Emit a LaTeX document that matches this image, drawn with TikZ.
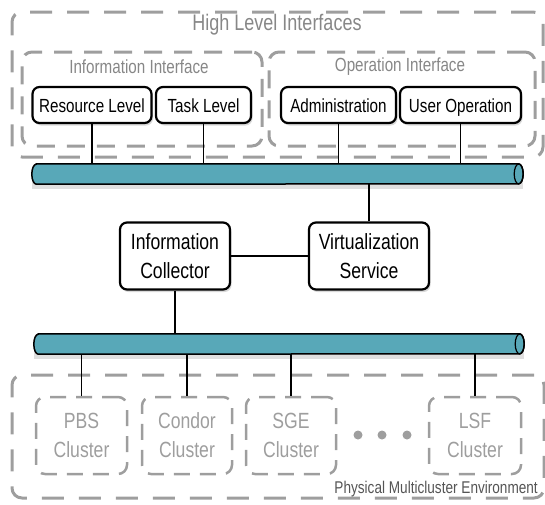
\documentclass[tikz,border=0pt]{standalone}
\usepackage{fontspec}
\setmainfont[FakeStretch=0.8]{Liberation Sans}
\usetikzlibrary{shadows}
\definecolor{busteal}{RGB}{88,168,184}
\definecolor{groupgray}{RGB}{158,158,158}
\definecolor{titlegray}{RGB}{135,135,135}
\definecolor{envgray}{RGB}{85,85,85}

\begin{document}
\begin{tikzpicture}[x=1pt,y=-1pt,
  group/.style={draw=groupgray, line width=3pt, dash pattern=on 22pt off 15pt,
    rounded corners=10pt, inner sep=0pt},
  subgroup/.style={group, dash pattern=on 18pt off 12pt},
  grouptitle/.style={text=titlegray, inner sep=0pt, font=\fontsize{19}{20}\selectfont},
  cluster/.style={draw=groupgray, line width=2.5pt, dash pattern=on 16pt off 10pt,
    rounded corners=9pt, inner sep=0pt, minimum height=77pt, text=groupgray,
    align=center, font=\fontsize{22}{29}\selectfont},
  block/.style={draw, line width=2.2pt, rounded corners=7pt, fill=white,
    minimum height=36pt, inner sep=0pt, text height=17.5pt, text depth=3.5pt,
    font=\fontsize{19}{20}\selectfont,
    drop shadow={opacity=0.3, shadow xshift=1.5pt, shadow yshift=-2.5pt}},
  service/.style={block, minimum height=67pt, align=center, text height=, text depth=,
    font=\fontsize{22}{29}\selectfont},
  bus/.style={minimum height=20pt, inner sep=0pt,
    drop shadow={opacity=0.25, shadow xshift=0pt, shadow yshift=-5pt}}]
\useasboundingbox (0,0) rectangle (545,504);

\node (hli) [group, minimum width=531pt, minimum height=145pt] at (277.5,84.5) {};
\node (hlititle) [grouptitle, font=\fontsize{22.5}{24}\selectfont] at (277,25) {High Level Interfaces};
\node (info) [subgroup, minimum width=240pt, minimum height=94pt] at (142,99) {};
\node (infotitle) [grouptitle] at (139,67) {Information Interface};
\node (oper) [subgroup, minimum width=266pt, minimum height=94pt] at (402,99) {};
\node (opertitle) [grouptitle] at (400,67) {Operation Interface};
\node (phys) [group, minimum width=532pt, minimum height=123pt] at (278,436.5) {};
\node (phystitle) [anchor=base east, text=envgray, inner sep=0pt,
  font=\fontsize{17}{18}\selectfont] at (538,493) {Physical Multicluster Environment};

\node (bus1) [bus, minimum width=491pt] at (277.5,174) {};
\node (bus2) [bus, minimum width=490pt] at (279,344) {};
\foreach \b in {bus1,bus2} {
  \draw[line width=1.5pt, fill=busteal]
    ([xshift=4.5pt]\b.north west) -- ([xshift=-4.5pt]\b.north east)
    arc[start angle=90, end angle=-90, x radius=4.5pt, y radius=10pt]
    -- ([xshift=4.5pt]\b.south west)
    arc[start angle=270, end angle=90, x radius=4.5pt, y radius=10pt] -- cycle;
  \draw[line width=1.2pt] ([xshift=-4.5pt]\b.east) ellipse [x radius=4.5pt, y radius=10pt];
}

\node (reslevel) [block, minimum width=119pt] at (92,105) {Resource Level};
\node (tasklevel) [block, minimum width=95pt] at (203.5,105) {Task Level};
\node (admin) [block, minimum width=115pt] at (338.5,105) {Administration};
\node (userop) [block, minimum width=121pt] at (460.5,105) {User Operation};

\node (collector) [service, minimum width=110pt] at (175,256) {Information\\Collector};
\node (virtual) [service, minimum width=120pt] at (369,256) {Virtualization\\Service};

\node (pbs) [cluster, minimum width=91pt] at (81.5,435.5) {PBS\\Cluster};
\node (condor) [cluster, minimum width=90pt] at (187,435.5) {Condor\\Cluster};
\node (sge) [cluster, minimum width=90pt] at (291,435.5) {SGE\\Cluster};
\node (lsf) [cluster, minimum width=92pt] at (475,435.5) {LSF\\Cluster};
\foreach \x in {358,382,407}
  \fill[groupgray] (\x,435) circle (4.5pt);

\path[line width=1.5pt]
(reslevel) edge (reslevel |- bus1.north)
(tasklevel) edge (tasklevel |- bus1.north)
(admin) edge (admin |- bus1.north)
(userop) edge (userop |- bus1.north)
(virtual) edge (virtual |- bus1.south)
(collector) edge (virtual)
(collector) edge (collector |- bus2.north)
(pbs) edge (pbs |- bus2.south)
(condor) edge (condor |- bus2.south)
(sge) edge (sge |- bus2.south)
(lsf) edge (lsf |- bus2.south);
\end{tikzpicture}
\end{document}
